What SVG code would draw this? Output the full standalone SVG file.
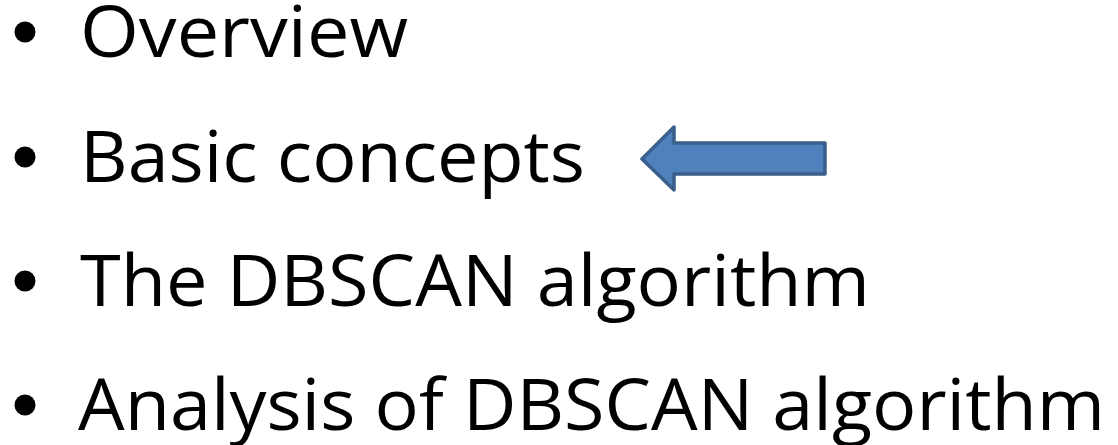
<svg xmlns="http://www.w3.org/2000/svg" width="1118" height="445" viewBox="0 0 1118 445">
<style>
.t{font-family:"Open Sans","Liberation Sans",sans-serif;font-size:72px;fill:#000}
.b{fill:#000}
</style>
<rect width="1118" height="445" fill="#fff"/>
<g id="item1"><circle class="b" cx="25" cy="32" r="10.5"/><text class="t" x="80" y="57" textLength="328" lengthAdjust="spacingAndGlyphs">Overview</text></g>
<g id="item2"><circle class="b" cx="25" cy="157" r="10.5"/><text class="t" x="80" y="182" textLength="505" lengthAdjust="spacingAndGlyphs">Basic concepts</text></g>
<g id="item3"><circle class="b" cx="25" cy="281" r="10.5"/><text class="t" x="80" y="306" textLength="790" lengthAdjust="spacingAndGlyphs">The DBSCAN algorithm</text></g>
<g id="item4"><circle class="b" cx="25" cy="405" r="10.5"/><text class="t" x="78" y="430" textLength="1027" lengthAdjust="spacingAndGlyphs">Analysis of DBSCAN algorithm</text></g>
<g id="arrow"><path d="M642,159 L674,127 L674,143 L825,143 L825,174 L674,174 L674,190 Z" fill="#4f81bd" stroke="#3a5f8b" stroke-width="3.5" stroke-linejoin="round"/></g>
</svg>
